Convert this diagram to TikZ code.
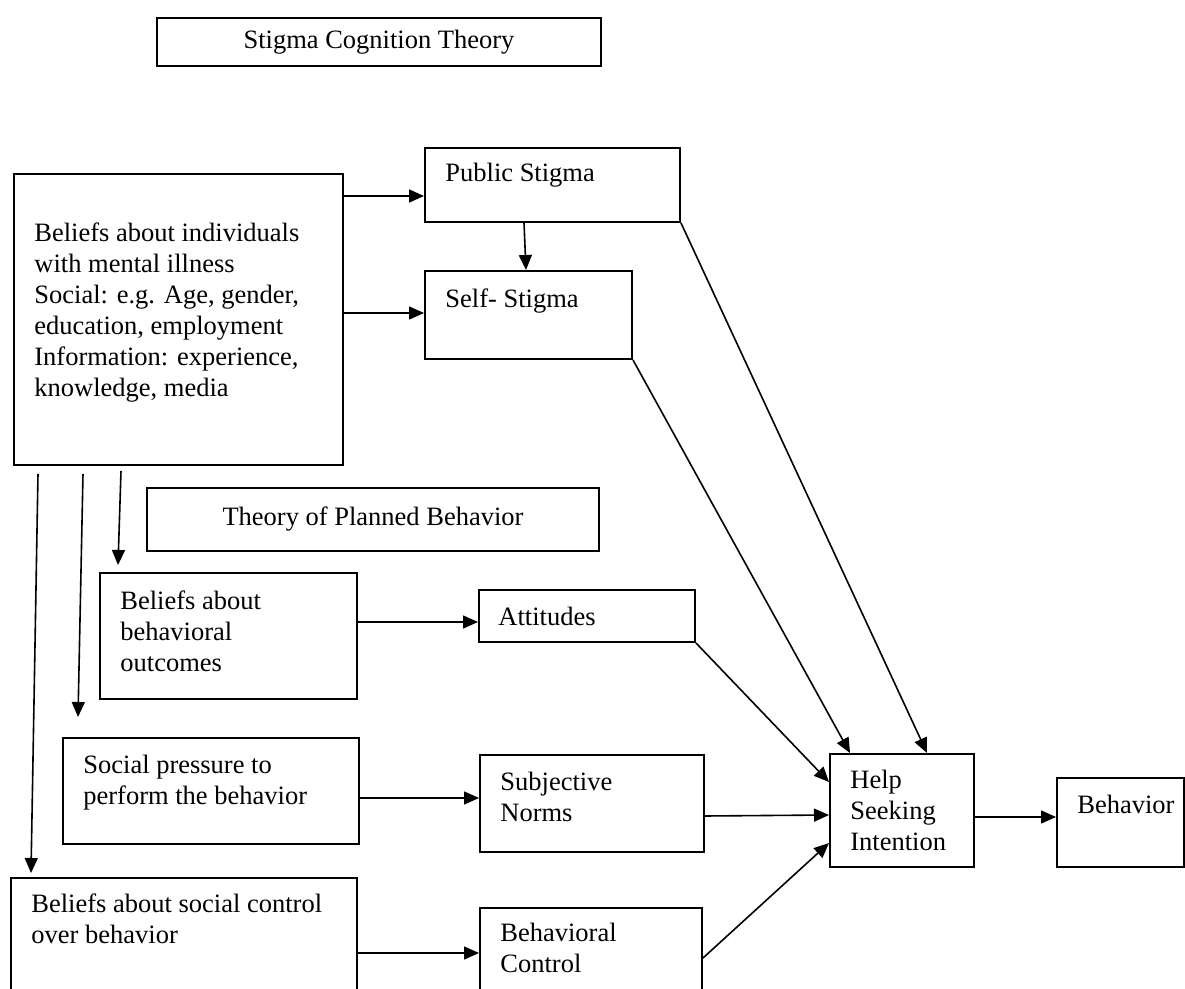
\documentclass[tikz,border=0pt]{standalone}
\usepackage{fontspec}
\setmainfont{Liberation Serif}
\usetikzlibrary{arrows.meta}

\begin{document}
\begin{tikzpicture}[x=0.5pt,y=-0.5pt,
  font=\fontsize{13.25}{15.5}\selectfont,
  box/.style={draw,line width=1pt,anchor=north west,inner sep=0pt},
  txt/.style={anchor=north west,align=left,inner sep=0pt},
  arr/.style={line width=0.8pt,-{Triangle[length=7.5pt,width=6.5pt]}}]

  \useasboundingbox (0,0) rectangle (1185,989);
  \clip (0,0) rectangle (1185,989);

  % stigma cognition part
  \node[box,minimum width=222pt,minimum height=24pt] (sct) at (156,17) {Stigma Cognition Theory};
  \node[box,minimum width=164.5pt,minimum height=145.5pt] (belief) at (13,173) {};
  \node[txt] at ([shift={(21,49)}]belief.north west) {Beliefs about individuals\\with mental illness\\Social: e.g. Age, gender,\\education, employment\\Information: experience,\\knowledge, media};
  \node[box,minimum width=127.5pt,minimum height=37pt] (pubs) at (424,147) {};
  \node[txt] at ([shift={(21,16)}]pubs.north west) {Public Stigma};
  \node[box,minimum width=103.5pt,minimum height=44pt] (selfs) at (424,270) {};
  \node[txt] at ([shift={(21,18)}]selfs.north west) {Self- Stigma};

  % planned behavior part
  \node[box,minimum width=226pt,minimum height=31.5pt] (tpb) at (146,487) {Theory of Planned Behavior};
  \node[box,minimum width=128.5pt,minimum height=63pt] (bout) at (99,572) {};
  \node[txt] at ([shift={(21,18)}]bout.north west) {Beliefs about\\behavioral\\outcomes};
  \node[box,minimum width=108pt,minimum height=26pt] (att) at (478,589) {};
  \node[txt] at ([shift={(20,18)}]att.north west) {Attitudes};
  \node[box,minimum width=148pt,minimum height=53pt] (spres) at (62,737) {};
  \node[txt] at ([shift={(21,18)}]spres.north west) {Social pressure to\\perform the behavior};
  \node[box,minimum width=112pt,minimum height=48.5pt] (subj) at (479,754) {};
  \node[txt] at ([shift={(21,18)}]subj.north west) {Subjective\\Norms};
  \node[box,minimum width=173pt,minimum height=62pt] (sctl) at (10,877) {};
  \node[txt] at ([shift={(21,16)}]sctl.north west) {Beliefs about social control\\over behavior};
  \node[box,minimum width=111pt,minimum height=47pt] (bctl) at (479,907) {};
  \node[txt] at ([shift={(21,16)}]bctl.north west) {Behavioral\\Control};

  % outcome
  \node[box,minimum width=72pt,minimum height=56.5pt] (help) at (829,753) {};
  \node[txt] at ([shift={(21,17)}]help.north west) {Help\\Seeking\\Intention};
  \node[box,minimum width=63.5pt,minimum height=44.5pt] (behav) at (1056,777) {};
  \node[txt] at ([shift={(21,18)}]behav.north west) {Behavior};

  % connectors
  \draw[arr] (belief.east |- 0,196) -- (pubs.west |- 0,196);
  \draw[arr] (belief.east |- 0,313) -- (selfs.west |- 0,313);
  \draw[arr] (pubs.south -| 524,0) -- (selfs.north -| 526,0);
  \draw[arr] ([shift={(25,8)}]belief.south west) -- ([shift={(21,-4)}]sctl.north west);
  \draw[arr] ([shift={(70,8)}]belief.south west) -- ([shift={(16,-20)}]spres.north west);
  \draw[arr] ([shift={(108,5)}]belief.south west) -- ([shift={(19,-7)}]bout.north west);
  \draw[arr] (bout.east |- 0,622) -- (att.west |- 0,622);
  \draw[arr] (spres.east |- 0,798) -- (subj.west |- 0,798);
  \draw[arr] (sctl.east |- 0,953) -- (bctl.west |- 0,953);
  \draw[arr] (pubs.south east) -- (help.north -| 927,0);
  \draw[arr] (selfs.south east) -- (help.north -| 850,0);
  \draw[arr] (att.south east) -- (help.west |- 0,782);
  \draw[arr] (subj.east |- 0,816) -- (help.west |- 0,815);
  \draw[arr] (bctl.east |- 0,958) -- (help.west |- 0,843);
  \draw[arr] (help.east |- 0,817) -- (behav.west |- 0,817);
\end{tikzpicture}
\end{document}
